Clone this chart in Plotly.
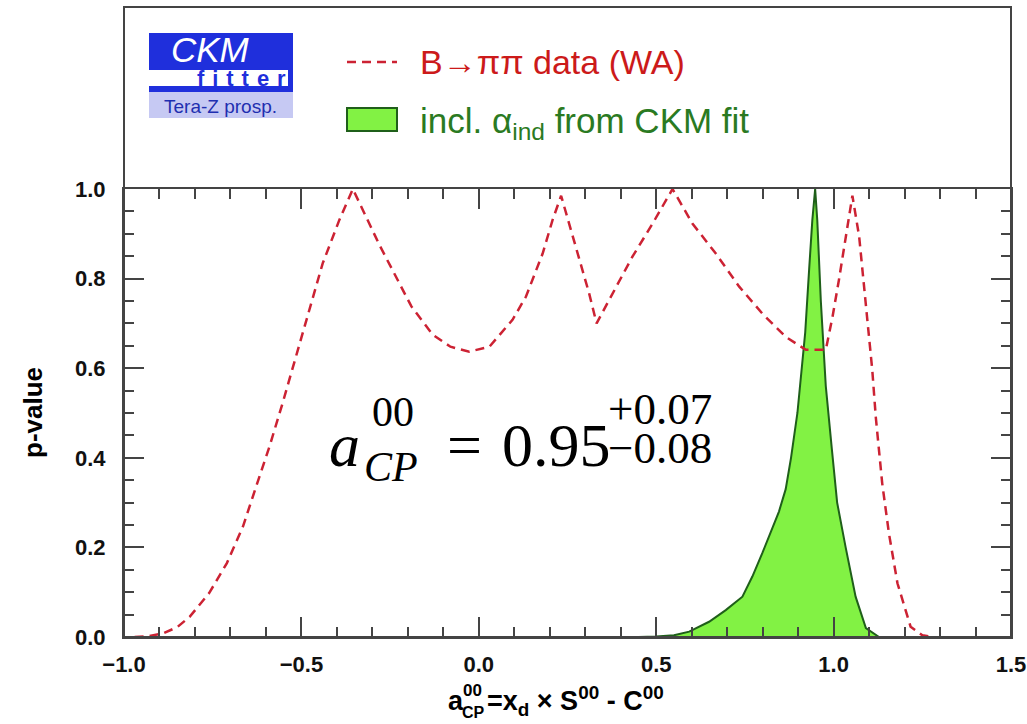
import plotly.graph_objects as go

# ---------------- data ----------------
red_x = [-0.97, -0.93, -0.89, -0.85, -0.815, -0.76, -0.71, -0.665, -0.628, -0.59,
         -0.553, -0.515, -0.477, -0.44, -0.393, -0.355, -0.28, -0.19, -0.13, -0.08,
         -0.027, 0.03, 0.095, 0.133, 0.18, 0.208, 0.232, 0.274, 0.311, 0.332,
         0.377, 0.433, 0.49, 0.546, 0.602, 0.668, 0.734, 0.799, 0.865, 0.922,
         0.978, 0.997, 1.015, 1.034, 1.053, 1.072, 1.091, 1.109, 1.119, 1.137,
         1.156, 1.18, 1.217, 1.25, 1.28]
red_y = [0.0, 0.002, 0.008, 0.022, 0.045, 0.098, 0.165, 0.246, 0.335, 0.425,
         0.522, 0.626, 0.730, 0.834, 0.931, 1.0, 0.875, 0.738, 0.675, 0.648,
         0.637, 0.648, 0.708, 0.760, 0.856, 0.931, 0.985, 0.871, 0.767, 0.700,
         0.767, 0.849, 0.923, 1.0, 0.923, 0.856, 0.782, 0.722, 0.670, 0.641,
         0.641, 0.715, 0.797, 0.894, 0.985, 0.894, 0.745, 0.596, 0.49, 0.343,
         0.231, 0.12, 0.023, 0.004, 0.0]

green_x = [0.45, 0.50, 0.55, 0.593, 0.649, 0.696, 0.743, 0.771, 0.799, 0.846,
           0.865, 0.880, 0.898, 0.910, 0.920, 0.931, 0.940, 0.948, 0.954, 0.964,
           0.978, 0.995, 1.010, 1.034, 1.062, 1.091, 1.128, 1.15]
green_y = [0.0, 0.001, 0.004, 0.012, 0.034, 0.060, 0.090, 0.135, 0.187, 0.28,
           0.33, 0.40, 0.50, 0.59, 0.68, 0.82, 0.93, 1.0, 0.93, 0.75,
           0.56, 0.42, 0.30, 0.20, 0.09, 0.02, 0.0, 0.0]

x_tickvals = [-1.0, -0.5, 0.0, 0.5, 1.0, 1.5]
x_ticktext = ["\u22121.0", "\u22120.5", "0.0", "0.5", "1.0", "1.5"]
y_tickvals = [0.0, 0.2, 0.4, 0.6, 0.8, 1.0]
y_ticktext = ["0.0", "0.2", "0.4", "0.6", "0.8", "1.0"]

legend_red = "B\u2192\u03c0\u03c0 data (WA)"
legend_green = "incl. \u03b1<sub>ind</sub> from CKM fit"

# ---------------- layout geometry (pixels) ----------------
FW, FH = 1027, 724
ML, MR, MT, MB = 124, 16, 7, 87
PW = FW - ML - MR
PH = FH - MT - MB
Y_TOP_PX = 189  # top of the plotting frame (y = 1.0)
ydom_top = (FH - MB - Y_TOP_PX) / PH


def px(x):
    return (x - ML) / PW


def py(y):
    return (FH - MB - y) / PH


RED = "#cc2233"
GREEN_FILL = "#82f244"
GREEN_LINE = "#1f5f1a"
AX = "#444444"

fig = go.Figure()
fig.add_trace(go.Scatter(
    x=green_x, y=green_y, mode="lines", fill="tozeroy",
    fillcolor=GREEN_FILL, line=dict(color=GREEN_LINE, width=2),
    name="incl. alpha_ind from CKM fit", showlegend=False, hoverinfo="skip"))
fig.add_trace(go.Scatter(
    x=red_x, y=red_y, mode="lines",
    line=dict(color=RED, width=2.5, dash="9px,6px"),
    name="B->pipi data (WA)", showlegend=False, hoverinfo="skip"))

tickfont = dict(family="Arial", size=22, color="#111111", weight="bold")

fig.update_layout(
    width=FW, height=FH,
    margin=dict(l=ML, r=MR, t=MT, b=MB, autoexpand=False),
    paper_bgcolor="white", plot_bgcolor="white",
    xaxis=dict(
        range=[-1.0, 1.5], tickvals=x_tickvals, ticktext=x_ticktext,
        ticks="inside", ticklen=20, tickwidth=1.5, tickcolor=AX,
        showline=True, linecolor=AX, linewidth=2, mirror="ticks",
        showgrid=False, zeroline=False, automargin=False,
        tickfont=tickfont, ticklabelstandoff=7,
        minor=dict(dtick=0.1, tick0=0, ticks="inside", ticklen=10,
                   tickwidth=1.5, tickcolor=AX, showgrid=False),
    ),
    yaxis=dict(
        domain=[0, ydom_top], range=[0, 1.0], tickvals=y_tickvals, ticktext=y_ticktext,
        ticks="inside", ticklen=20, tickwidth=1.5, tickcolor=AX,
        showline=True, linecolor=AX, linewidth=2, mirror="ticks",
        showgrid=False, zeroline=False, automargin=False,
        tickfont=tickfont, ticklabelstandoff=12,
        minor=dict(dtick=0.05, tick0=0, ticks="inside", ticklen=10,
                   tickwidth=1.5, tickcolor=AX, showgrid=False),
    ),
)

shapes = []
# outer frame
shapes.append(dict(type="rect", xref="paper", yref="paper", x0=0, x1=1, y0=0, y1=1,
                   line=dict(color=AX, width=2), layer="above"))
# logo
BLUE = "#1f2fdc"
shapes.append(dict(type="rect", xref="paper", yref="paper",
                   x0=px(149), x1=px(293), y0=py(92), y1=py(33),
                   fillcolor=BLUE, line=dict(width=0), layer="above"))
shapes.append(dict(type="rect", xref="paper", yref="paper",
                   x0=px(149), x1=px(288), y0=py(86), y1=py(70),
                   fillcolor="white", line=dict(width=0), layer="above"))
shapes.append(dict(type="rect", xref="paper", yref="paper",
                   x0=px(149), x1=px(293), y0=py(118), y1=py(92),
                   fillcolor="#c6c9f3", line=dict(width=0), layer="above"))
# legend symbols
shapes.append(dict(type="line", xref="paper", yref="paper",
                   x0=px(347), x1=px(397), y0=py(62), y1=py(62),
                   line=dict(color=RED, width=2.5, dash="9px,6px"), layer="above"))
shapes.append(dict(type="rect", xref="paper", yref="paper",
                   x0=px(347), x1=px(397), y0=py(131), y1=py(108),
                   fillcolor=GREEN_FILL, line=dict(color=GREEN_LINE, width=2), layer="above"))

ann = []


def A(text, x, y, size, color="#000000", family="Arial", xanchor="left", yanchor="middle",
      weight="normal", **kw):
    ann.append(dict(text=text, x=px(x), y=py(y), xref="paper", yref="paper",
                    xanchor=xanchor, yanchor=yanchor, showarrow=False,
                    font=dict(family=family, size=size, color=color, weight=weight), **kw))


# logo text
A("<i>CKM</i>", 210, 50, 35, color="white", xanchor="center")
A("f\u2002i\u2002t\u2002t\u2002e\u2002r".replace("\u2002", " \u200a"), 241, 78, 22,
  color=BLUE, xanchor="center", weight="bold")
A("Tera-Z prosp.", 220, 106, 19, color="#1f2fb0", xanchor="center")

# legend text
A(legend_red, 418, 62, 34, color="#cc1a1a")
A(legend_green, 418, 123, 35, color="#2a7a22")

# formula annotation
SERIF = "Liberation Serif, DejaVu Serif, serif"
A("<i>a</i>", 327, 445, 62, family=SERIF)
A("00", 370, 412, 42, family=SERIF)
A("<i>CP</i>", 362, 467, 42, family=SERIF)
A("=", 445, 445, 62, family=SERIF)
A("0.95", 500, 445, 62, family=SERIF)
A("+0.07", 606, 409, 45, family=SERIF)
A("\u22120.08", 606, 448, 45, family=SERIF)

# y-axis title
A("p-value", 33, 413, 26, xanchor="center", weight="bold", textangle=-90)

# x-axis title
A("a", 446, 701, 27, weight="bold")
A("00", 461, 690, 17, weight="bold")
A("CP", 460, 712, 16, weight="bold")
A("=x<sub>d</sub> \u00d7 S<sup>00</sup> - C<sup>00</sup>", 485, 701, 27, weight="bold")

fig.update_layout(shapes=shapes, annotations=ann)
fig.write_html("out.html")
